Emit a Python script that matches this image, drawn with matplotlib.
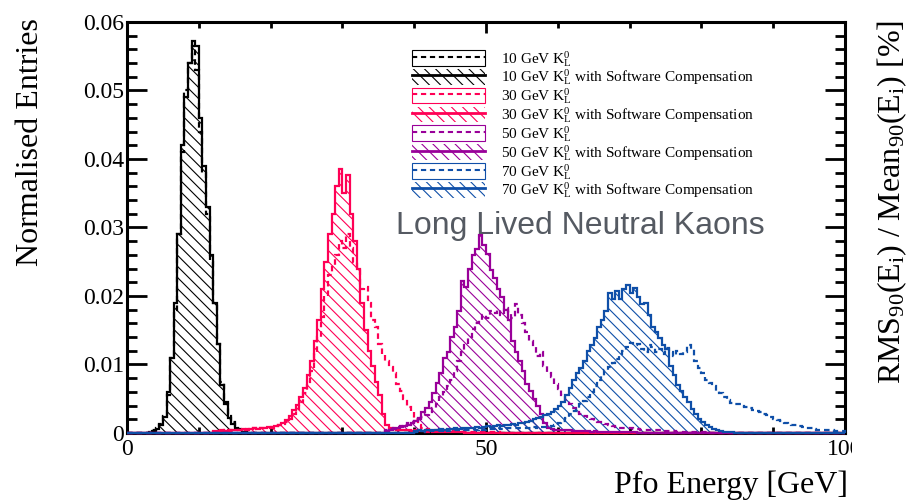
import numpy as np
import matplotlib
matplotlib.use("Agg")
import matplotlib.pyplot as plt
import matplotlib.patches as mpatches
from matplotlib.lines import Line2D
from matplotlib.ticker import MultipleLocator

plt.rcParams['font.family'] = ['Liberation Serif', 'DejaVu Serif']
plt.rcParams['mathtext.fontset'] = 'custom'
plt.rcParams['mathtext.rm'] = 'Liberation Serif'
plt.rcParams['mathtext.it'] = 'Liberation Serif:italic'
plt.rcParams['hatch.linewidth'] = 0.8

# Pfo energy histograms, 0.5 GeV bins, normalised entries
bin_width = 0.5
edges = np.arange(0, 100 + bin_width, bin_width)

energies = [10, 30, 50, 70]
colors = ['#000000', '#ff0055', '#990099', '#0f4fa8']

# each list starts at its low edge (GeV)
k10_lo = 3.0
k10 = [0.0002, 0.0004, 0.0007, 0.0013, 0.0025, 0.0055, 0.0110, 0.0180, 0.0290, 0.0410,
       0.0500, 0.0540, 0.0565, 0.0530, 0.0440, 0.0380, 0.0320, 0.0250, 0.0190, 0.0130,
       0.0075, 0.0045, 0.0025, 0.0016, 0.0010, 0.0006, 0.0004, 0.0002]
k10_sc_lo = 3.5
k10_sc = [0.0003, 0.0006, 0.0011, 0.0024, 0.0060, 0.0110, 0.0190, 0.0290, 0.0420, 0.0490,
          0.0540, 0.0572, 0.0565, 0.0460, 0.0390, 0.0330, 0.0260, 0.0190, 0.0130, 0.0070,
          0.0042, 0.0022, 0.0013, 0.0008, 0.0004, 0.0002]

k30_lo = 12.0
k30 = [0.0002, 0.0003, 0.0003, 0.0004, 0.0003, 0.0004, 0.0004, 0.0005, 0.0005, 0.0006,
       0.0005, 0.0007, 0.0006, 0.0007, 0.0008, 0.0008, 0.0009, 0.0010, 0.0011, 0.0013,
       0.0016, 0.0020, 0.0027, 0.0035, 0.0045, 0.0058, 0.0075, 0.0090, 0.0115, 0.0140,
       0.0170, 0.0200, 0.0230, 0.0245, 0.0260, 0.0280, 0.0270, 0.0290, 0.0270, 0.0250,
       0.0240, 0.0210, 0.0213, 0.0190, 0.0165, 0.0155, 0.0130, 0.0115, 0.0105, 0.0097,
       0.0088, 0.0072, 0.0062, 0.0050, 0.0038, 0.0032, 0.0020, 0.0012, 0.0008, 0.0006,
       0.0005, 0.0005, 0.0004, 0.0004, 0.0004, 0.0003, 0.0003, 0.0003, 0.0003, 0.0002,
       0.0002, 0.0002, 0.0002, 0.0002, 0.0002, 0.0001, 0.0001, 0.0001, 0.0001, 0.0001]
k30_sc_lo = 12.0
k30_sc = [0.0003, 0.0003, 0.0004, 0.0003, 0.0004, 0.0005, 0.0004, 0.0005, 0.0006, 0.0005,
          0.0006, 0.0007, 0.0006, 0.0008, 0.0007, 0.0009, 0.0008, 0.0010, 0.0012, 0.0015,
          0.0019, 0.0025, 0.0034, 0.0041, 0.0052, 0.0065, 0.0085, 0.0105, 0.0135, 0.0165,
          0.0210, 0.0250, 0.0290, 0.0320, 0.0360, 0.0385, 0.0350, 0.0377, 0.0320, 0.0280,
          0.0240, 0.0190, 0.0150, 0.0120, 0.0098, 0.0075, 0.0055, 0.0027, 0.0012, 0.0008,
          0.0006, 0.0005, 0.0004, 0.0005, 0.0004, 0.0003, 0.0004, 0.0003, 0.0003, 0.0002,
          0.0003, 0.0002, 0.0002, 0.0002, 0.0002, 0.0001, 0.0001, 0.0001, 0.0001, 0.0001]

k50_lo = 36.0
k50 = [0.0004, 0.0006, 0.0007, 0.0009, 0.0010, 0.0012, 0.0014, 0.0016, 0.0018, 0.0020,
       0.0023, 0.0026, 0.0030, 0.0036, 0.0043, 0.0052, 0.0060, 0.0068, 0.0078, 0.0090,
       0.0105, 0.0118, 0.0128, 0.0140, 0.0152, 0.0160, 0.0165, 0.0172, 0.0168, 0.0178,
       0.0175, 0.0180, 0.0172, 0.0183, 0.0176, 0.0168, 0.0188, 0.0172, 0.0160, 0.0148,
       0.0135, 0.0125, 0.0112, 0.0118, 0.0098, 0.0088, 0.0082, 0.0072, 0.0064, 0.0056,
       0.0048, 0.0042, 0.0036, 0.0031, 0.0028, 0.0025, 0.0022, 0.0020, 0.0018, 0.0016,
       0.0015, 0.0013, 0.0012, 0.0010, 0.0009, 0.0008, 0.0008, 0.0007, 0.0007, 0.0006,
       0.0006, 0.0005, 0.0005, 0.0005, 0.0004, 0.0004, 0.0004, 0.0003, 0.0003, 0.0003,
       0.0003, 0.0002, 0.0002, 0.0002, 0.0002, 0.0002, 0.0001, 0.0001, 0.0001, 0.0001]
k50_sc_lo = 36.0
k50_sc = [0.0003, 0.0005, 0.0006, 0.0007, 0.0009, 0.0010, 0.0012, 0.0015, 0.0018, 0.0022,
          0.0030, 0.0036, 0.0045, 0.0058, 0.0073, 0.0088, 0.0110, 0.0118, 0.0140, 0.0155,
          0.0178, 0.0222, 0.0213, 0.0240, 0.0260, 0.0268, 0.0289, 0.0275, 0.0262, 0.0238,
          0.0226, 0.0210, 0.0198, 0.0180, 0.0165, 0.0135, 0.0118, 0.0105, 0.0090, 0.0072,
          0.0062, 0.0050, 0.0040, 0.0028, 0.0015, 0.0008, 0.0006, 0.0005, 0.0005, 0.0004,
          0.0004, 0.0004, 0.0003, 0.0003, 0.0003, 0.0003, 0.0003, 0.0002, 0.0003, 0.0002,
          0.0002, 0.0002, 0.0002, 0.0002, 0.0002, 0.0001, 0.0001, 0.0001, 0.0001, 0.0001]

k70_lo = 40.0
k70 = [0.0002, 0.0002, 0.0003, 0.0002, 0.0003, 0.0003, 0.0003, 0.0003, 0.0004, 0.0003,
       0.0004, 0.0004, 0.0004, 0.0005, 0.0004, 0.0005, 0.0005, 0.0005, 0.0006, 0.0005,
       0.0006, 0.0006, 0.0006, 0.0007, 0.0006, 0.0007, 0.0007, 0.0007, 0.0008, 0.0007,
       0.0008, 0.0008, 0.0008, 0.0009, 0.0008, 0.0009, 0.0009, 0.0009, 0.0010, 0.0012,
       0.0015, 0.0018, 0.0022, 0.0027, 0.0032, 0.0036, 0.0042, 0.0046, 0.0052, 0.0060,
       0.0068, 0.0078, 0.0083, 0.0092, 0.0097, 0.0102, 0.0108, 0.0112, 0.0120, 0.0125,
       0.0132, 0.0128, 0.0130, 0.0122, 0.0118, 0.0128, 0.0125, 0.0118, 0.0122, 0.0116,
       0.0124, 0.0118, 0.0112, 0.0120, 0.0115, 0.0118, 0.0128, 0.0122, 0.0105, 0.0095,
       0.0088, 0.0078, 0.0073, 0.0068, 0.0062, 0.0058, 0.0052, 0.0048, 0.0044, 0.0042,
       0.0042, 0.0040, 0.0038, 0.0036, 0.0034, 0.0032, 0.0030, 0.0028, 0.0026, 0.0024,
       0.0021, 0.0019, 0.0017, 0.0015, 0.0013, 0.0012, 0.0011, 0.0010, 0.0009, 0.0008,
       0.0007, 0.0006, 0.0005, 0.0005, 0.0004, 0.0004, 0.0004, 0.0003, 0.0003, 0.0003]
k70_sc_lo = 40.0
k70_sc = [0.0003, 0.0004, 0.0003, 0.0004, 0.0005, 0.0004, 0.0005, 0.0006, 0.0005, 0.0006,
          0.0006, 0.0007, 0.0006, 0.0007, 0.0008, 0.0007, 0.0008, 0.0009, 0.0008, 0.0009,
          0.0010, 0.0009, 0.0010, 0.0011, 0.0010, 0.0012, 0.0011, 0.0013, 0.0012, 0.0014,
          0.0015, 0.0016, 0.0018, 0.0020, 0.0022, 0.0024, 0.0026, 0.0028, 0.0030, 0.0035,
          0.0040, 0.0045, 0.0055, 0.0065, 0.0078, 0.0088, 0.0095, 0.0105, 0.0120, 0.0128,
          0.0138, 0.0155, 0.0165, 0.0178, 0.0205, 0.0195, 0.0208, 0.0195, 0.0210, 0.0216,
          0.0205, 0.0212, 0.0198, 0.0188, 0.0190, 0.0172, 0.0155, 0.0148, 0.0138, 0.0128,
          0.0122, 0.0098, 0.0085, 0.0070, 0.0062, 0.0052, 0.0045, 0.0035, 0.0028, 0.0020,
          0.0016, 0.0012, 0.0009, 0.0006, 0.0004, 0.0003, 0.0002, 0.0002, 0.0001]

plain = [(k10_lo, k10), (k30_lo, k30), (k50_lo, k50), (k70_lo, k70)]
compensated = [(k10_sc_lo, k10_sc), (k30_sc_lo, k30_sc), (k50_sc_lo, k50_sc), (k70_sc_lo, k70_sc)]


def full_hist(lo, vals):
    h = np.zeros(len(edges) - 1)
    i = int(round(lo / bin_width))
    n = min(len(vals), len(h) - i)
    h[i:i + n] = vals[:n]
    return h


dash = (0, (2.5, 1.8))
hatch = '\\\\\\'

fig = plt.figure(figsize=(9.08, 5.03), dpi=100)
ax = fig.add_axes([0.1399, 0.1392, 0.7907, 0.8171])

handles, labels = [], []
for e, c, (lo, v), (lo_sc, v_sc) in zip(energies, colors, plain, compensated):
    h = full_hist(lo, v)
    h_sc = full_hist(lo_sc, v_sc)
    ax.stairs(h_sc, edges, fill=True, facecolor='none', edgecolor=c, hatch=hatch, lw=0)
    # outlines run along zero too, drawn over the frame
    ax.stairs(h_sc, edges, color=c, lw=1.6, clip_on=False, zorder=2.6)
    ax.stairs(h, edges, color=c, lw=1.6, linestyle=dash, clip_on=False, zorder=2.6)

    kl = f'{e} GeV ' + r'$\mathrm{K}^{0}_{\mathrm{L}}$'
    handles.append((mpatches.Patch(facecolor='none', edgecolor=c, lw=0.8),
                    Line2D([], [], color=c, lw=1.5, linestyle=dash)))
    labels.append(kl)
    handles.append((mpatches.Patch(facecolor='none', edgecolor=c, hatch=hatch, lw=0),
                    Line2D([], [], color=c, lw=2)))
    labels.append(kl + ' with Software Compensation')

ax.set_xlim(0, 100)
ax.set_ylim(0, 0.06)
ax.set_xticks([0, 50, 100])
ax.set_xticklabels(['0', '50', '100'])
ax.xaxis.set_minor_locator(MultipleLocator(10))
ax.set_yticks([0, 0.01, 0.02, 0.03, 0.04, 0.05, 0.06])
ax.set_yticklabels(['0', '0.01', '0.02', '0.03', '0.04', '0.05', '0.06'])
ax.yaxis.set_minor_locator(MultipleLocator(0.002))

for s in ax.spines.values():
    s.set_linewidth(2.2)
ax.tick_params(which='both', direction='in', top=True, right=True, width=2, labelsize=17)
ax.tick_params(axis='y', which='major', length=14.5, pad=2)
ax.tick_params(axis='y', which='minor', length=7.2)
ax.tick_params(axis='x', which='major', length=8, pad=4)
ax.tick_params(axis='x', which='minor', length=4.3)

# the last x label is cut at the pad edge
clip = mpatches.Rectangle((0, 0), 852 / 908, 1, transform=fig.transFigure)
ax.xaxis.get_major_ticks()[-1].label1.set_clip_path(clip)

ax.set_ylabel('Normalised Entries', fontsize=23, loc='top')
ax.yaxis.set_label_coords(-0.114, 1.01)
ax.set_xlabel('Pfo Energy [GeV]', fontsize=23, loc='right')
ax.xaxis.set_label_coords(1.004, -0.091)

fig.text(0.983, 0.960, r'RMS$_{90}$(E$_{\mathrm{i}}$) / Mean$_{90}$(E$_{\mathrm{i}}$) [%]',
         rotation=90, ha='center', va='top', fontsize=23)

ax.text(0.632, 0.504, 'Long Lived Neutral Kaons', transform=ax.transAxes,
        ha='center', va='center', fontsize=23, color='#555a62', family='Liberation Sans')

ax.legend(handles, labels, loc='upper left', bbox_to_anchor=(0.397, 0.935),
          frameon=False, fontsize=11, handlelength=4.8, handleheight=1.2,
          handletextpad=1.0, labelspacing=-0.07, borderpad=0, borderaxespad=0)

fig.savefig('out.png', dpi=100)
